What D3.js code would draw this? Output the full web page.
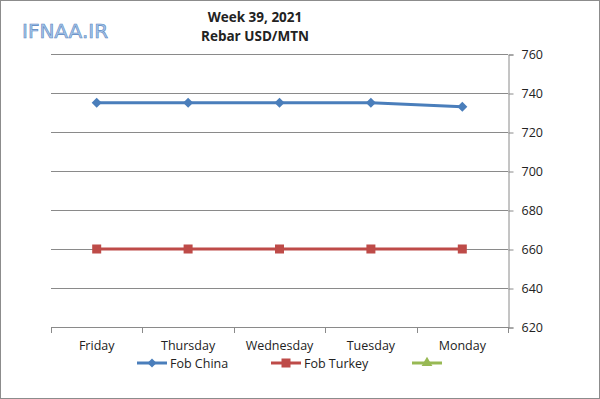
<!DOCTYPE html>
<html>
<head>
<meta charset="utf-8">
<script src="https://cdn.jsdelivr.net/npm/d3@7"></script>
<style>
  body { margin: 0; background: #fff; }
  svg { font-family: "Open Sans", "Noto Sans", sans-serif; }
</style>
</head>
<body>
<div id="chart"></div>
<script>
// Data
const days = ["Friday", "Thursday", "Wednesday", "Tuesday", "Monday"];
const fobChina = [735, 735, 735, 735, 733];
const fobTurkey = [660, 660, 660, 660, 660];
const yTicks = [620, 640, 660, 680, 700, 720, 740, 760];

const W = 600, H = 399;
const plot = { left: 51, right: 508, top: 54, bottom: 327 };

const svg = d3.select("#chart").append("svg")
    .attr("width", W)
    .attr("height", H);

// frame
svg.append("rect")
    .attr("x", 0.5).attr("y", 0.5)
    .attr("width", W - 1).attr("height", H - 1)
    .attr("fill", "#fff")
    .attr("stroke", "#8c8c8c");

const x = d3.scaleBand()
    .domain(days)
    .range([plot.left, plot.right]);

const y = d3.scaleLinear()
    .domain([620, 760])
    .range([plot.bottom, plot.top]);

// gridlines
svg.append("g")
    .selectAll("line")
    .data(yTicks)
    .join("line")
    .attr("x1", plot.left)
    .attr("x2", plot.right)
    .attr("y1", d => Math.round(y(d)) + 0.5)
    .attr("y2", d => Math.round(y(d)) + 0.5)
    .attr("stroke", "#8a8a8a");

// right axis
const yAxis = svg.append("g")
    .attr("transform", `translate(${plot.right + 0.5},0.5)`)
    .call(d3.axisRight(y).tickValues(yTicks).tickSize(5).tickPadding(8));
yAxis.select(".domain").attr("stroke", "#8a8a8a");
yAxis.selectAll(".tick line").attr("stroke", "#8a8a8a");
yAxis.selectAll("text")
    .attr("font-size", 12.5)
    .attr("fill", "#222")
    .attr("font-family", "Open Sans, sans-serif");

// bottom axis
const xAxis = svg.append("g")
    .attr("transform", `translate(0,${Math.round(plot.bottom) + 0.5})`)
    .call(d3.axisBottom(x).tickSize(0).tickPadding(14));
xAxis.select(".domain").remove();
xAxis.selectAll("text")
    .attr("font-size", 12.5)
    .attr("fill", "#222")
    .attr("font-family", "Open Sans, sans-serif");

// category boundary ticks
const bounds = days.map(d => x(d)).concat([plot.right]);
svg.append("g")
    .selectAll("line")
    .data(bounds)
    .join("line")
    .attr("x1", d => Math.round(d) + 0.5)
    .attr("x2", d => Math.round(d) + 0.5)
    .attr("y1", Math.round(plot.bottom))
    .attr("y2", Math.round(plot.bottom) + 6)
    .attr("stroke", "#8a8a8a");

const cx = d => x(d) + x.bandwidth() / 2;

const line = d3.line()
    .x((d, i) => cx(days[i]))
    .y(d => y(d));

// Fob China
svg.append("path")
    .datum(fobChina)
    .attr("d", line)
    .attr("fill", "none")
    .attr("stroke", "#4a7ebb")
    .attr("stroke-width", 3);

svg.append("g")
    .selectAll("path")
    .data(fobChina)
    .join("path")
    .attr("d", d3.symbol(d3.symbolSquare, 50))
    .attr("transform", (d, i) => `translate(${cx(days[i])},${y(d)}) rotate(45)`)
    .attr("fill", "#4a7ebb");

// Fob Turkey
svg.append("path")
    .datum(fobTurkey)
    .attr("d", line)
    .attr("fill", "none")
    .attr("stroke", "#be4b48")
    .attr("stroke-width", 3);

svg.append("g")
    .selectAll("rect")
    .data(fobTurkey)
    .join("rect")
    .attr("x", (d, i) => cx(days[i]) - 4.5)
    .attr("y", d => y(d) - 4.5)
    .attr("width", 9)
    .attr("height", 9)
    .attr("fill", "#be4b48");

// titles
svg.append("text")
    .attr("x", 255).attr("y", 22)
    .attr("text-anchor", "middle")
    .attr("font-size", 13.5).attr("font-weight", "bold")
    .attr("fill", "#222")
    .text("Week 39, 2021");
svg.append("text")
    .attr("x", 255).attr("y", 41)
    .attr("text-anchor", "middle")
    .attr("font-size", 13.5).attr("font-weight", "bold")
    .attr("fill", "#222")
    .text("Rebar USD/MTN");

// logo
svg.append("text")
    .attr("x", 22).attr("y", 38)
    .attr("font-size", 20)
    .attr("font-family", "DejaVu Sans, sans-serif")
    .attr("fill", "#a6c6ea")
    .attr("stroke", "#5b86c0")
    .attr("stroke-width", 0.6)
    .text("IFNAA.IR");

// legend
const legendItems = [
    { name: "Fob China", color: "#4a7ebb", shape: "diamond", x: 137 },
    { name: "Fob Turkey", color: "#be4b48", shape: "square", x: 271 },
    { name: "", color: "#98b954", shape: "triangle", x: 412 }
];
const ly = 363;
legendItems.forEach(item => {
    const g = svg.append("g").attr("transform", `translate(${item.x},${ly})`);
    g.append("line")
        .attr("x1", 0).attr("x2", 30)
        .attr("stroke", item.color)
        .attr("stroke-width", 3);
    if (item.shape === "diamond") {
        g.append("path")
            .attr("d", d3.symbol(d3.symbolSquare, 40))
            .attr("transform", "translate(15,0) rotate(45)")
            .attr("fill", item.color);
    } else if (item.shape === "square") {
        g.append("rect")
            .attr("x", 10.5).attr("y", -4.5)
            .attr("width", 9).attr("height", 9)
            .attr("fill", item.color);
    } else {
        g.append("path")
            .attr("d", d3.symbol(d3.symbolTriangle, 50))
            .attr("transform", "translate(15,0)")
            .attr("fill", item.color);
    }
    g.append("text")
        .attr("x", 33).attr("y", 4.5)
        .attr("font-size", 12.5)
        .attr("fill", "#222")
        .text(item.name);
});
</script>
</body>
</html>
